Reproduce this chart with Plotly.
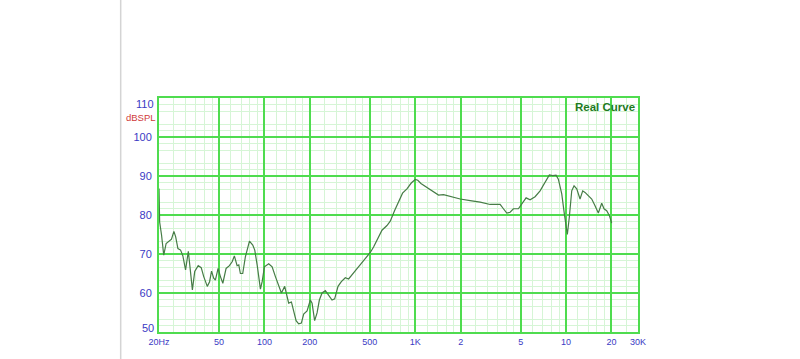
import plotly.graph_objects as go
import math

# ---- data ----
freq_hz = [20, 20.2, 20.8, 21.5, 22.3, 23.2, 24.2, 25.1, 25.8, 26.7, 27.8, 28.8, 30.0,
           31.3, 32.0, 33.3, 34.5, 36.4, 38.1, 39.6, 41.8, 43.3, 44.6, 46.1, 47.3, 49.3,
           51.1, 53.0, 55.7, 58.6, 61.1, 63.2, 65.9, 67.6, 69.3, 71.8, 74.8, 79.6, 83.7,
           86.3, 89.5, 94.1, 96.6, 100, 106.8, 112.5, 118.3, 124.4, 129.6, 136.3, 141.3,
           144.8, 151.0, 156.3, 162.2, 168.7, 175.8, 182.1, 191.8, 201.7, 207.0, 215.3,
           223.4, 231.4, 241.1, 253.5, 266.6, 280.8, 292.2, 307.7, 323.6, 343.9, 361.7,
           384.4, 404.8, 432.4, 466.7, 503.5, 529.4, 566.2, 601.9, 649.5, 683, 729, 775,
           824, 881, 941, 1000, 1040, 1091, 1196, 1322, 1427, 1540, 1705, 1986, 2313,
           2695, 3139, 3656, 3843, 4048, 4257, 4477, 4832, 5090, 5434, 5775, 6233, 6727,
           7260, 7752, 8165, 8587, 8892, 9365, 9743, 10200, 10517, 10907, 11298, 11775,
           12380, 12900, 13360, 14050, 14800, 15570, 16370, 17240, 17860, 18600, 19360,
           20080]
spl_db = [86.8, 78.2, 74.8, 69.7, 72.7, 73.3, 73.8, 75.8, 74.4, 71.4, 71.0, 69.5, 65.9,
          70.7, 67.2, 60.8, 65.5, 67.0, 66.5, 64.2, 61.7, 62.9, 65.6, 63.8, 63.3, 66.3,
          64.2, 62.5, 66.3, 67.0, 68.0, 69.5, 67.0, 67.2, 65.0, 65.0, 69.3, 73.3, 72.3,
          71.0, 67.2, 61.0, 62.9, 66.7, 67.5, 66.7, 64.2, 62.1, 60.0, 61.7, 59.1, 57.4,
          57.7, 55.7, 52.9, 52.1, 52.3, 54.6, 55.4, 58.2, 57.4, 52.9, 54.9, 58.2, 60.0,
          60.6, 59.5, 58.2, 58.5, 61.7, 62.9, 63.9, 63.6, 65.0, 65.9, 67.3, 68.8, 70.4,
          71.8, 74.0, 76.1, 77.3, 78.4, 81.1, 83.4, 85.6, 86.7, 88.2, 89.1, 88.9, 88.1,
          87.1, 86.1, 85.1, 85.2, 84.7, 84.1, 83.7, 83.3, 82.7, 82.7, 81.6, 80.5, 80.7,
          81.6, 81.6, 82.9, 84.4, 83.9, 84.7, 86.2, 88.4, 90.3, 90.1, 90.2, 89.2, 85.4,
          80.3, 75.0, 79.5, 86.2, 87.5, 86.7, 84.1, 86.2, 85.8, 85.0, 84.1, 82.4, 80.5,
          83.0, 81.6, 81.1, 79.9, 77.9]

x_tick_vals = [20, 50, 100, 200, 500, 1000, 2000, 5000, 10000, 20000, 30000]
x_tick_text = ["20Hz", "50", "100", "200", "500", "1K", "2", "5", "10", "20", "30K"]
x_minor_vals = [25, 30, 35, 40, 45, 60, 70, 80, 90, 120, 140, 160, 180, 250, 300, 350,
                400, 450, 600, 700, 800, 900, 1200, 1400, 1600, 1800, 2500, 3000, 3500,
                4000, 4500, 6000, 7000, 8000, 9000, 12000, 14000, 16000, 18000, 25000]
y_tick_vals = [60, 70, 80, 90, 100]
y_tick_text = ["60", "70", "80", "90", "100"]
y_edge_labels = ["110", "50"]
y_range = [50, 110]
x_range_hz = [20, 30000]

MAJOR = "#4fdc4f"
MINOR = "#d6f5d6"
LABEL = "#3a3ac4"
FONT = "Liberation Sans, Arial"

fig = go.Figure()
fig.add_trace(go.Scatter(x=freq_hz, y=spl_db, mode="lines",
                         line=dict(color="#467c46", width=1.2), hoverinfo="skip",
                         showlegend=False))

y_minor = []
for k in range(50, 110, 5):
    y_minor += [k + 5 / 3, k + 10 / 3]

fig.update_xaxes(type="log",
                 range=[math.log10(x_range_hz[0]), math.log10(x_range_hz[1])],
                 tickmode="array", tickvals=x_tick_vals, ticktext=x_tick_text,
                 ticks="", showgrid=True, gridcolor=MAJOR, gridwidth=1.5,
                 minor=dict(tickmode="array", tickvals=x_minor_vals, showgrid=True,
                            gridcolor=MINOR, gridwidth=1, ticks=""),
                 showline=True, linecolor=MAJOR, linewidth=2, mirror=True,
                 zeroline=False,
                 tickfont=dict(family=FONT, size=9, color=LABEL))
fig.update_yaxes(range=y_range, tickmode="array", tickvals=y_tick_vals,
                 ticktext=y_tick_text, ticks="", showgrid=True, gridcolor=MAJOR,
                 gridwidth=1.5,
                 minor=dict(tickmode="array", tickvals=y_minor, showgrid=True,
                            gridcolor=MINOR, gridwidth=1, ticks=""),
                 showline=True, linecolor=MAJOR, linewidth=2, mirror=True,
                 zeroline=False, ticklabelstandoff=3,
                 tickfont=dict(family=FONT, size=11, color=LABEL))

annotations = [
    dict(text=y_edge_labels[0], xref="paper", yref="y", x=0, y=y_range[1],
         xanchor="right", yanchor="middle", xshift=-3, yshift=-6, showarrow=False,
         font=dict(family=FONT, size=11, color=LABEL)),
    dict(text=y_edge_labels[1], xref="paper", yref="y", x=0, y=y_range[0],
         xanchor="right", yanchor="middle", xshift=-3, yshift=4, showarrow=False,
         font=dict(family=FONT, size=11, color=LABEL)),
    dict(text="dBSPL", xref="paper", yref="paper", x=0, y=1, xanchor="right",
         yanchor="middle", xshift=-1, yshift=-19, showarrow=False,
         font=dict(family=FONT, size=9.5, color="#d03a3a")),
    dict(text="<b>Real Curve</b>", xref="paper", yref="paper", x=1, y=1,
         xanchor="right", yanchor="top", xshift=-1, yshift=-1, showarrow=False,
         font=dict(family=FONT, size=11.5, color="#1f7a1f")),
]

shapes = [dict(type="line", xref="paper", yref="paper", x0=-0.08, x1=-0.08,
               y0=-0.2, y1=1.5, line=dict(color="#d4d4d4", width=1.5))]

fig.update_layout(width=800, height=359, autosize=False,
                  margin=dict(l=159, r=162, t=98, b=25, pad=0),
                  paper_bgcolor="white", plot_bgcolor="white",
                  annotations=annotations, shapes=shapes, showlegend=False)

fig.write_html("out.html")
